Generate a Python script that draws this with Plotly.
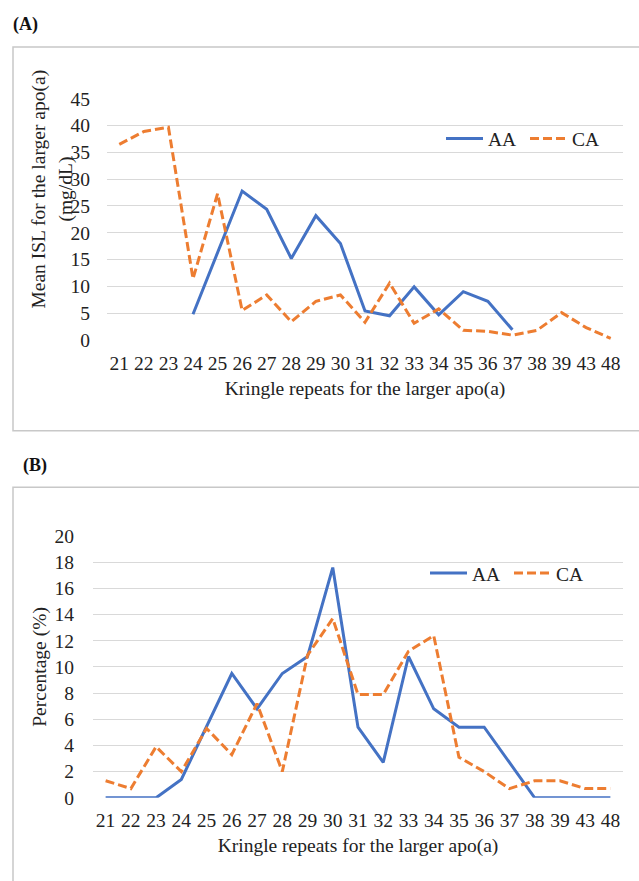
import plotly.graph_objects as go

categories = ["21", "22", "23", "24", "25", "26", "27", "28", "29", "30",
              "31", "32", "33", "34", "35", "36", "37", "38", "39", "43", "48"]

# Panel A: mean ISL (mg/dL)
isl_aa = [None, None, None, 4.8, 16.3, 27.8, 24.4, 15.2, 23.2, 18.0,
          5.4, 4.5, 9.9, 4.7, 9.0, 7.2, 1.9, None, None, None, None]
isl_ca = [36.5, 38.9, 39.7, 11.4, 27.3, 5.5, 8.4, 3.4, 7.2, 8.4,
          3.3, 10.6, 3.1, 5.8, 1.8, 1.6, 0.9, 1.8, 5.1, 2.3, 0.3]

# Panel B: percentage (%)
pct_aa = [0, 0, 0, 1.4, 5.4, 9.5, 6.8, 9.5, 10.8, 17.6,
          5.4, 2.7, 10.8, 6.8, 5.4, 5.4, 2.7, 0, 0, 0, 0]
pct_ca = [1.3, 0.7, 3.9, 2.0, 5.3, 3.3, 7.2, 2.0, 10.9, 13.7,
          7.9, 7.9, 11.2, 12.4, 3.1, 2.0, 0.7, 1.3, 1.3, 0.7, 0.7]

series_names = ["AA", "CA"]
title_a = "(A)"
title_b = "(B)"
x_title = "Kringle repeats for the larger apo(a)"
y_title_a1 = "Mean ISL for the larger apo(a)"
y_title_a2 = "(mg/dL)"
y_title_b = "Percentage (%)"

BLUE = "#4472C4"
ORANGE = "#ED7D31"
GRID = "#D9D9D9"
TXT = "#222222"
FONT = "Liberation Serif"
FS = 19.5
DASH = "9px,4px"
W, H = 639, 881


def px(x):
    return x / W


def py(y):
    return 1 - y / H


fig = go.Figure()

fig.add_trace(go.Scatter(x=categories, y=isl_aa, name=series_names[0], mode="lines",
                         line=dict(color=BLUE, width=3), xaxis="x", yaxis="y",
                         legend="legend", connectgaps=False))
fig.add_trace(go.Scatter(x=categories, y=isl_ca, name=series_names[1], mode="lines",
                         line=dict(color=ORANGE, width=3, dash=DASH), xaxis="x", yaxis="y",
                         legend="legend"))
fig.add_trace(go.Scatter(x=categories, y=pct_aa, name=series_names[0], mode="lines",
                         line=dict(color=BLUE, width=3), xaxis="x2", yaxis="y2",
                         legend="legend2"))
fig.add_trace(go.Scatter(x=categories, y=pct_ca, name=series_names[1], mode="lines",
                         line=dict(color=ORANGE, width=3, dash=DASH), xaxis="x2", yaxis="y2",
                         legend="legend2"))

xcommon = dict(type="category", categoryorder="array", categoryarray=categories,
               range=[-0.5, len(categories) - 0.5], showgrid=False, showline=False,
               zeroline=False, ticks="outside", tickcolor="rgba(0,0,0,0)",
               tickfont=dict(family=FONT, size=FS, color=TXT))
ycommon = dict(showgrid=True, gridcolor=GRID, gridwidth=1.2, zeroline=False, showline=False,
               ticks="outside", tickcolor="rgba(0,0,0,0)",
               tickfont=dict(family=FONT, size=FS, color=TXT))

legcommon = dict(orientation="h", xanchor="left", yanchor="middle", itemwidth=37,
                 entrywidth=32, entrywidthmode="pixels",
                 bgcolor="rgba(0,0,0,0)", font=dict(family=FONT, size=FS, color=TXT))

fig.update_layout(
    width=W, height=H,
    margin=dict(l=0, r=0, t=0, b=0),
    paper_bgcolor="white", plot_bgcolor="white",
    xaxis=dict(xcommon, domain=[px(107), px(623)], anchor="y", ticklen=6,
               title=dict(text=x_title, standoff=8,
                          font=dict(family=FONT, size=FS, color=TXT))),
    yaxis=dict(ycommon, domain=[py(338), py(91)], anchor="x", range=[0, 45], dtick=5,
               ticklen=12),
    xaxis2=dict(xcommon, domain=[px(93), px(623)], anchor="y2", ticklen=5,
                title=dict(text=x_title, standoff=8,
                           font=dict(family=FONT, size=FS, color=TXT))),
    yaxis2=dict(ycommon, domain=[py(807), py(539)], anchor="x2", range=[0, 20], dtick=2,
                ticklen=14,
                title=dict(text=y_title_b, standoff=2,
                           font=dict(family=FONT, size=FS, color=TXT))),
    legend=dict(legcommon, x=px(441), y=py(132)),
    legend2=dict(legcommon, x=px(425), y=py(577)),
    showlegend=True,
)

# panel frames
fig.add_shape(type="rect", xref="paper", yref="paper", x0=px(13), x1=1.05, y0=py(431), y1=py(38),
              line=dict(color="#C8C8C8", width=1.5), fillcolor="rgba(0,0,0,0)", layer="below")
fig.add_shape(type="rect", xref="paper", yref="paper", x0=px(13), x1=1.05, y0=-0.05, y1=py(489),
              line=dict(color="#C8C8C8", width=1.5), fillcolor="rgba(0,0,0,0)", layer="below")

fig.add_annotation(text="<b>" + title_a + "</b>", xref="paper", yref="paper", x=px(11), y=py(15),
                   xanchor="left", yanchor="middle", showarrow=False,
                   font=dict(family=FONT, size=18, color="#111111"))
fig.add_annotation(text="<b>" + title_b + "</b>", xref="paper", yref="paper", x=px(21), y=py(467),
                   xanchor="left", yanchor="middle", showarrow=False,
                   font=dict(family=FONT, size=18, color="#111111"))
fig.add_annotation(text=y_title_a1, xref="paper", yref="paper", x=px(39), y=py(184),
                   xanchor="center", yanchor="middle", showarrow=False, textangle=-90,
                   font=dict(family=FONT, size=FS, color=TXT))
fig.add_annotation(text=y_title_a2, xref="paper", yref="paper", x=px(66), y=py(184),
                   xanchor="center", yanchor="middle", showarrow=False, textangle=-90,
                   font=dict(family=FONT, size=FS, color=TXT))

fig.write_html("out.html", config={"displayModeBar": False},
               post_script="document.documentElement.style.margin='0';document.body.style.margin='0';"
                           "document.documentElement.style.overflow='hidden';document.body.style.overflow='hidden';")
